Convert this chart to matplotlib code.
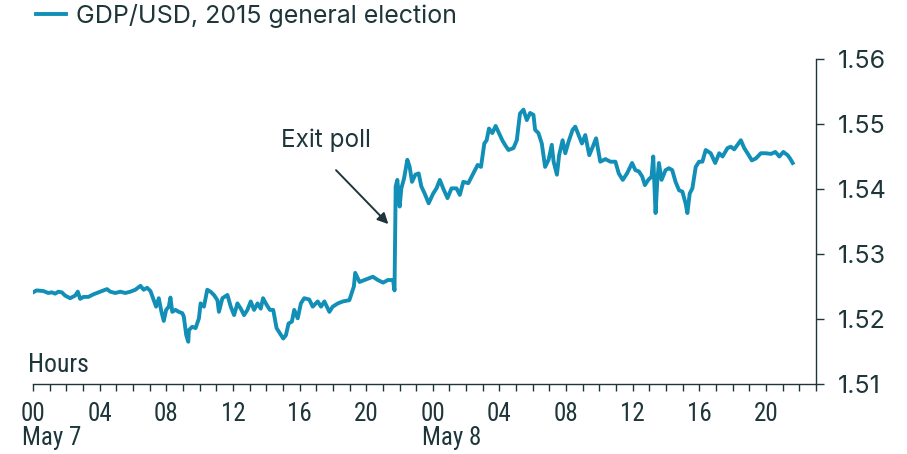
import numpy as np
import matplotlib
matplotlib.use('Agg')
import matplotlib.pyplot as plt
from matplotlib import font_manager
from matplotlib.lines import Line2D
from matplotlib.ticker import MultipleLocator, FixedLocator

# hours since 00:00 May 7 and the GBP/USD rate at that time
hours = [0.00, 0.22, 0.62, 0.92, 1.13, 1.33, 1.52, 1.73, 1.93, 2.23, 2.53, 2.69, 2.83, 3.03, 3.33,
         3.63, 3.93, 4.23, 4.44, 4.64, 4.94, 5.24, 5.54, 5.84, 6.14, 6.45, 6.64, 6.85, 7.05, 7.25,
         7.39, 7.55, 7.71, 7.85, 7.99, 8.15, 8.25, 8.36, 8.55, 8.75, 8.96, 9.05, 9.20, 9.32, 9.36,
         9.56, 9.76, 9.96, 10.06, 10.26, 10.46, 10.66, 10.86, 11.07, 11.16, 11.37, 11.67, 11.87, 12.07, 12.27,
         12.47, 12.67, 12.87, 13.07, 13.27, 13.48, 13.67, 13.81, 14.02, 14.22, 14.42, 14.62, 14.82, 15.02, 15.18,
         15.34, 15.54, 15.68, 15.89, 16.08, 16.28, 16.58, 16.79, 17.09, 17.29, 17.49, 17.79, 17.99, 18.30, 18.60,
         18.99, 19.26, 19.34, 19.60, 19.90, 20.20, 20.40, 20.70, 21.01, 21.31, 21.61, 21.70, 21.77, 21.87, 22.01,
         22.11, 22.27, 22.47, 22.61, 22.75, 22.95, 23.15, 23.31, 23.51, 23.75, 24.02, 24.22, 24.42, 24.62, 24.88,
         25.12, 25.42, 25.62, 25.83, 26.13, 26.43, 26.69, 26.89, 27.09, 27.23, 27.37, 27.57, 27.77, 27.97, 28.17,
         28.33, 28.54, 28.84, 29.04, 29.23, 29.44, 29.64, 29.84, 30.04, 30.14, 30.34, 30.54, 30.74, 30.95, 31.14,
         31.25, 31.45, 31.58, 31.79, 31.95, 32.15, 32.39, 32.55, 32.75, 32.95, 33.15, 33.39, 33.60, 33.80, 34.05,
         34.36, 34.66, 34.96, 35.16, 35.40, 35.66, 35.96, 36.16, 36.37, 36.57, 36.73, 36.93, 37.13, 37.23, 37.37,
         37.47, 37.57, 37.73, 37.97, 38.17, 38.37, 38.57, 38.78, 38.98, 39.17, 39.28, 39.42, 39.58, 39.78, 39.98,
         40.18, 40.38, 40.68, 40.95, 41.19, 41.39, 41.69, 41.89, 42.09, 42.29, 42.49, 42.69, 42.89, 43.15, 43.39,
         43.69, 43.99, 44.30, 44.56, 44.80, 45.04, 45.30, 45.44, 45.60]
rate = [1.5241, 1.5244, 1.5243, 1.5240, 1.5241, 1.5239, 1.5242, 1.5241, 1.5236, 1.5232, 1.5236, 1.5242, 1.5231, 1.5234, 1.5234,
        1.5238, 1.5241, 1.5244, 1.5246, 1.5242, 1.5240, 1.5242, 1.5240, 1.5242, 1.5245, 1.5251, 1.5245, 1.5248, 1.5243, 1.5229,
        1.5219, 1.5232, 1.5211, 1.5197, 1.5214, 1.5219, 1.5233, 1.5211, 1.5214, 1.5211, 1.5209, 1.5204, 1.5175, 1.5165, 1.5183,
        1.5188, 1.5186, 1.5201, 1.5224, 1.5219, 1.5245, 1.5242, 1.5237, 1.5229, 1.5211, 1.5232, 1.5237, 1.5219, 1.5206, 1.5224,
        1.5216, 1.5206, 1.5214, 1.5227, 1.5214, 1.5224, 1.5216, 1.5232, 1.5222, 1.5214, 1.5214, 1.5186, 1.5178, 1.5170, 1.5175,
        1.5193, 1.5196, 1.5214, 1.5201, 1.5224, 1.5232, 1.5230, 1.5219, 1.5227, 1.5219, 1.5227, 1.5211, 1.5219, 1.5224, 1.5227,
        1.5229, 1.5250, 1.5271, 1.5257, 1.5260, 1.5263, 1.5265, 1.5260, 1.5256, 1.5260, 1.5260, 1.5244, 1.5404, 1.5414, 1.5373,
        1.5401, 1.5416, 1.5445, 1.5434, 1.5411, 1.5422, 1.5424, 1.5404, 1.5393, 1.5378, 1.5393, 1.5401, 1.5414, 1.5401, 1.5386,
        1.5401, 1.5401, 1.5391, 1.5411, 1.5409, 1.5424, 1.5437, 1.5434, 1.5470, 1.5475, 1.5493, 1.5486, 1.5497, 1.5486, 1.5475,
        1.5468, 1.5460, 1.5463, 1.5475, 1.5516, 1.5522, 1.5506, 1.5517, 1.5514, 1.5491, 1.5486, 1.5470, 1.5434, 1.5445, 1.5468,
        1.5442, 1.5422, 1.5452, 1.5475, 1.5455, 1.5473, 1.5491, 1.5496, 1.5483, 1.5470, 1.5483, 1.5452, 1.5465, 1.5478, 1.5442,
        1.5446, 1.5442, 1.5442, 1.5424, 1.5414, 1.5424, 1.5440, 1.5429, 1.5427, 1.5419, 1.5406, 1.5414, 1.5419, 1.5450, 1.5363,
        1.5411, 1.5440, 1.5414, 1.5429, 1.5432, 1.5429, 1.5411, 1.5398, 1.5396, 1.5378, 1.5363, 1.5393, 1.5401, 1.5434, 1.5442,
        1.5442, 1.5460, 1.5455, 1.5440, 1.5455, 1.5450, 1.5463, 1.5465, 1.5461, 1.5468, 1.5475, 1.5463, 1.5455, 1.5444, 1.5447,
        1.5455, 1.5455, 1.5454, 1.5457, 1.5450, 1.5457, 1.5452, 1.5447, 1.5440]

hour_ticks = list(range(0, 45, 4))
hour_labels = ['00', '04', '08', '12', '16', '20', '00', '04', '08', '12', '16', '20']
day_labels = ['May 7', 'May 8']
day_starts = [0, 24]
y_ticks = [1.51, 1.52, 1.53, 1.54, 1.55, 1.56]

LINE = '#128fb7'
INK = '#1e363a'


def pick_font(candidates):
    installed = {f.name for f in font_manager.fontManager.ttflist}
    for name in candidates:
        if name in installed:
            return name
    return 'DejaVu Sans'


main_font = pick_font(['Inter', 'Roboto', 'DejaVu Sans'])
narrow_font = pick_font(['Roboto Condensed', 'Liberation Sans Narrow', 'Open Sans Condensed', 'Roboto'])

fig = plt.figure(figsize=(9.07, 4.54), dpi=100)
ax = fig.add_axes([33 / 907, 70 / 454, 783 / 907, 325 / 454])

ax.plot(hours, rate, color=LINE, lw=2.8, solid_joinstyle='round')

ax.set_xlim(0, 47)
ax.set_ylim(1.51, 1.56)

for side in ['left', 'top']:
    ax.spines[side].set_visible(False)
for side in ['right', 'bottom']:
    ax.spines[side].set_color(INK)
    ax.spines[side].set_linewidth(1.0)

ax.yaxis.tick_right()
ax.set_yticks(y_ticks)
ax.set_yticklabels(['%.2f' % v for v in y_ticks], fontsize=18, family=main_font, color=INK)
ax.tick_params(axis='y', length=6, width=1, color=INK, pad=10)

ax.xaxis.set_major_locator(FixedLocator(hour_ticks))
ax.xaxis.set_minor_locator(MultipleLocator(1))
ax.set_xticklabels(hour_labels, fontsize=18, family=narrow_font, color=INK)
ax.tick_params(axis='x', which='both', length=5, width=1, color=INK, pad=8)

trans = ax.get_xaxis_transform()
for d, lab in zip(day_starts, day_labels):
    ax.text(d - 0.65, -0.13, lab, transform=trans, fontsize=18, family=narrow_font,
            color=INK, ha='left', va='top')

fig.text(28 / 907, 1 - 372 / 454, 'Hours', fontsize=18.5, family=narrow_font, color=INK,
         ha='left', va='baseline')

ax.text(14.88, 1.5465, 'Exit poll', fontsize=17.5, family=main_font, color=INK,
        ha='left', va='baseline')
ax.annotate('', xy=(21.33, 1.5346), xytext=(18.19, 1.5429),
            arrowprops=dict(arrowstyle='-|>', color=INK, lw=1.4, mutation_scale=16,
                            shrinkA=0, shrinkB=0))

handle = Line2D([], [], color=LINE, lw=2.8)
fig.legend([handle], ['GDP/USD, 2015 general election'], loc='center left',
           bbox_to_anchor=(36 / 907, 1 - 16 / 454), frameon=False, handlelength=1.2,
           handletextpad=0.4, borderaxespad=0, borderpad=0,
           prop={'family': main_font, 'size': 18}, labelcolor=INK)

fig.savefig('out.png', dpi=100)
